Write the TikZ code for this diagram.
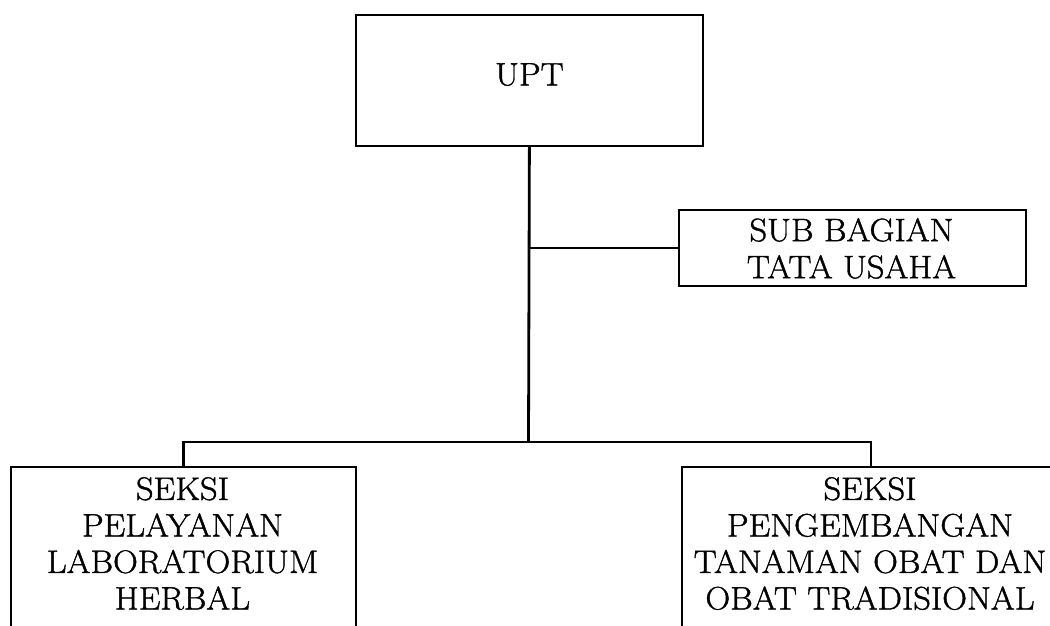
\documentclass[tikz,border=0pt]{standalone}
\usepackage{fontspec}
\setmainfont{Latin Modern Roman}[FakeBold=1.2, FakeStretch=1.06]
\tikzset{
  box/.style={draw, line width=1.8pt, inner sep=0pt, anchor=north west},
  conn/.style={line width=2.8pt},
  lbl/.style={font=\fontsize{32.5}{37}\selectfont, align=center, anchor=north, inner sep=0pt}
}
\begin{document}
\begin{tikzpicture}[x=1pt,y=-1pt]
\useasboundingbox (0,0) rectangle (1050,625);
\clip (0,0) rectangle (1050,625);
% boxes
\node[box, minimum width=347pt, minimum height=131pt] (upt) at (355,14) {};
\node[box, minimum width=347pt, minimum height=76pt] (sub) at (678,209) {};
\node[box, minimum width=345pt, minimum height=200pt] (left) at (10,466) {};
\node[box, minimum width=378pt, minimum height=200pt] (right) at (681,466) {};
% texts
\node[lbl] (tupt) at (upt.north |- 0,63) {UPT};
\node[lbl] (tsub) at (851.5,218) {SUB BAGIAN\\TATA USAHA};
\node[lbl, font=\fontsize{32.5}{36.5}\selectfont] (tleft) at (182.5,477) {SEKSI\\PELAYANAN\\LABORATORIUM\\HERBAL};
\node[lbl, font=\fontsize{32.5}{36.5}\selectfont] (tright) at (870,477) {SEKSI\\PENGEMBANGAN\\TANAMAN OBAT DAN\\OBAT TRADISIONAL};
% connectors
\coordinate (bus) at (528.5,442);
\draw[conn] (upt.south) -- (bus);
\draw[conn] (upt.south |- sub.west) -- (sub.west);
\draw[conn] (left.north) -- (left.north |- bus) -- (right.north |- bus) -- (right.north);
\end{tikzpicture}
\end{document}
